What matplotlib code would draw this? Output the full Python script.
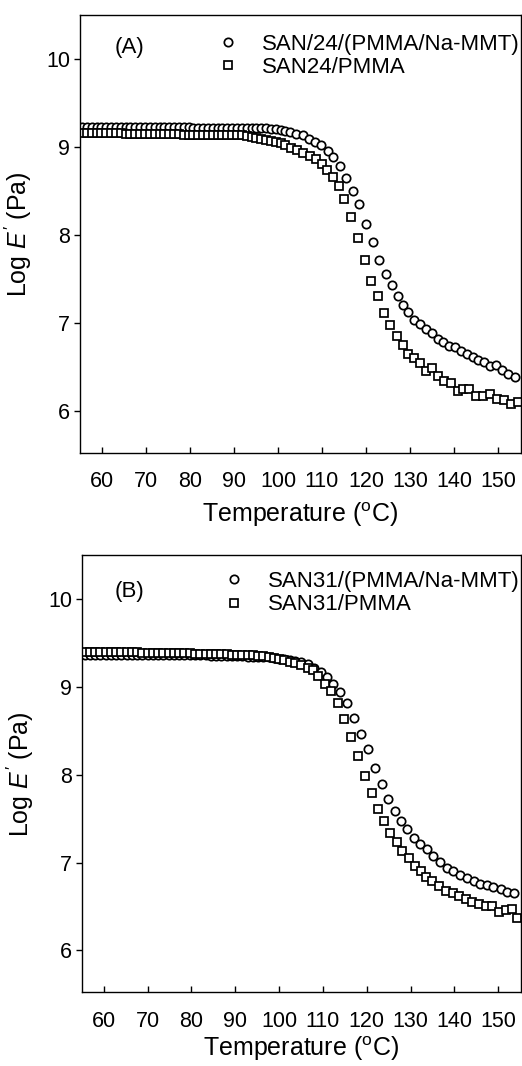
import matplotlib
matplotlib.use("Agg")
import matplotlib.pyplot as plt

plt.rcParams["font.family"] = ["Liberation Sans", "DejaVu Sans"]
plt.rcParams["mathtext.fontset"] = "custom"
plt.rcParams["mathtext.rm"] = "Liberation Sans"
plt.rcParams["mathtext.it"] = "Liberation Sans:italic"

# Panel A: SAN24 blends
ta_clay = [55.5, 56.6, 57.7, 58.8, 59.9, 61.0, 62.1, 63.2, 64.3, 65.4, 66.5, 67.6,
           68.7, 69.8, 70.9, 72.0, 73.1, 74.2, 75.3, 76.4, 77.5, 78.6, 79.7, 80.8,
           81.9, 83.0, 84.1, 85.2, 86.3, 87.4, 88.5, 89.6, 90.7, 91.8, 92.9, 94.0,
           95.1, 96.2, 97.3, 98.4, 99.5, 100.6, 101.7, 102.8, 104.0,
           105.6, 107.1, 108.4, 109.8, 111.3, 112.6, 114.1, 115.5, 117.0, 118.3,
           119.9, 121.5, 123.0, 124.5, 126.0, 127.2, 128.5, 129.6, 131.0, 132.3,
           133.6, 135.0, 136.3, 137.6, 138.9, 140.2, 141.6, 142.9, 144.2, 145.5,
           146.9, 148.2, 149.5, 150.8, 152.3, 153.9]
ea_clay = [9.23, 9.23, 9.23, 9.23, 9.23, 9.23, 9.23, 9.23, 9.23, 9.23, 9.23, 9.23,
           9.23, 9.23, 9.23, 9.23, 9.23, 9.23, 9.23, 9.23, 9.23, 9.23, 9.23, 9.22,
           9.22, 9.22, 9.22, 9.22, 9.22, 9.22, 9.22, 9.22, 9.22, 9.22, 9.22, 9.22,
           9.21, 9.21, 9.21, 9.20, 9.20, 9.19, 9.18, 9.17, 9.15,
           9.13, 9.09, 9.06, 9.02, 8.95, 8.88, 8.78, 8.65, 8.50, 8.35,
           8.12, 7.92, 7.72, 7.56, 7.43, 7.31, 7.20, 7.12, 7.03, 6.985,
           6.93, 6.88, 6.815, 6.78, 6.74, 6.72, 6.68, 6.645, 6.61, 6.575,
           6.55, 6.51, 6.52, 6.46, 6.42, 6.38]

ta_neat = [55.5, 56.6, 57.7, 58.8, 59.9, 61.0, 62.1, 63.2, 64.3, 65.4, 66.5, 67.6,
           68.7, 69.8, 70.9, 72.0, 73.1, 74.2, 75.3, 76.4, 77.5, 78.6, 79.7, 80.8,
           81.9, 83.0, 84.1, 85.2, 86.3, 87.4, 88.5, 89.6, 90.7, 91.8, 92.9, 94.0,
           95.1, 96.2, 97.3, 98.4, 99.5, 100.6, 101.7,
           103.0, 104.4, 105.8, 107.2, 108.6, 109.9, 111.2, 112.5, 113.8, 115.1,
           116.6, 118.2, 119.7, 121.2, 122.7, 124.2, 125.5, 127.0, 128.3, 129.6,
           131.0, 132.3, 133.6, 135.0, 136.3, 137.8, 139.3, 140.8, 142.1, 143.5,
           145.0, 146.5, 148.1, 149.7, 151.3, 153.0, 154.6]
ea_neat = [9.16, 9.16, 9.16, 9.16, 9.16, 9.16, 9.16, 9.16, 9.16, 9.15, 9.15, 9.15,
           9.15, 9.15, 9.15, 9.15, 9.15, 9.15, 9.15, 9.15, 9.15, 9.14, 9.14, 9.14,
           9.14, 9.14, 9.14, 9.14, 9.14, 9.14, 9.13, 9.13, 9.13, 9.13, 9.12, 9.11,
           9.10, 9.09, 9.08, 9.07, 9.05, 9.04, 9.02,
           8.99, 8.96, 8.93, 8.90, 8.86, 8.81, 8.74, 8.66, 8.55, 8.41,
           8.20, 7.97, 7.72, 7.48, 7.30, 7.11, 6.97, 6.85, 6.75, 6.65,
           6.60, 6.54, 6.45, 6.49, 6.40, 6.34, 6.32, 6.23, 6.25, 6.25,
           6.17, 6.17, 6.19, 6.13, 6.12, 6.08, 6.10]

# Panel B: SAN31 blends
tb_clay = [55.6, 56.8, 58.0, 59.2, 60.4, 61.6, 62.8, 64.0, 65.2, 66.4, 67.6, 68.8,
           70.0, 71.2, 72.4, 73.6, 74.8, 76.0, 77.2, 78.4, 79.6, 80.8, 82.0, 83.2,
           84.4, 85.6, 86.8, 88.0, 89.2, 90.4, 91.6, 92.8, 94.0, 95.2, 96.4, 97.6,
           98.8, 100.0, 101.2, 102.4, 103.6,
           104.9, 106.5, 108.0, 109.5, 111.0, 112.4, 113.9, 115.5, 117.1, 118.6,
           120.2, 121.9, 123.4, 124.9, 126.4, 127.9, 129.3, 130.8, 132.2, 133.7,
           135.2, 136.8, 138.3, 139.8, 141.3, 142.8, 144.4, 145.9, 147.4, 148.9,
           150.6, 152.1, 153.6]
eb_clay = [9.37, 9.37, 9.37, 9.37, 9.37, 9.37, 9.37, 9.37, 9.37, 9.37, 9.37, 9.37,
           9.37, 9.36, 9.36, 9.36, 9.36, 9.36, 9.36, 9.36, 9.36, 9.36, 9.36, 9.36,
           9.35, 9.35, 9.35, 9.35, 9.35, 9.35, 9.35, 9.34, 9.34, 9.34, 9.34, 9.34,
           9.33, 9.32, 9.32, 9.31, 9.30,
           9.28, 9.26, 9.22, 9.17, 9.11, 9.03, 8.94, 8.82, 8.65, 8.46,
           8.29, 8.08, 7.89, 7.72, 7.59, 7.47, 7.38, 7.28, 7.21, 7.15,
           7.07, 7.01, 6.94, 6.90, 6.86, 6.82, 6.79, 6.76, 6.74, 6.72,
           6.70, 6.67, 6.65]

tb_neat = [55.6, 56.8, 58.0, 59.2, 60.4, 61.6, 62.8, 64.0, 65.2, 66.4, 67.6, 68.8,
           70.0, 71.2, 72.4, 73.6, 74.8, 76.0, 77.2, 78.4, 79.6, 80.8, 82.0, 83.2,
           84.4, 85.6, 86.8, 88.0, 89.2, 90.4, 91.6, 92.8, 94.0, 95.2, 96.4, 97.6,
           98.8, 100.0, 101.2, 102.4,
           103.7, 105.1, 106.5, 107.7, 108.9, 110.4, 111.9, 113.4, 114.9, 116.5,
           118.0, 119.6, 121.1, 122.6, 123.9, 125.4, 126.9, 128.1, 129.6, 131.1,
           132.3, 133.5, 135.0, 136.5, 138.1, 139.6, 141.1, 142.6, 144.1, 145.6,
           147.2, 148.7, 150.2, 151.7, 153.2, 154.4]
eb_neat = [9.40, 9.40, 9.40, 9.40, 9.40, 9.40, 9.40, 9.40, 9.40, 9.40, 9.40, 9.39,
           9.39, 9.39, 9.39, 9.39, 9.39, 9.39, 9.39, 9.39, 9.39, 9.38, 9.38, 9.38,
           9.38, 9.38, 9.38, 9.38, 9.37, 9.37, 9.37, 9.36, 9.36, 9.35, 9.35, 9.34,
           9.33, 9.32, 9.31, 9.29,
           9.27, 9.25, 9.22, 9.19, 9.12, 9.04, 8.95, 8.82, 8.64, 8.43,
           8.21, 7.99, 7.79, 7.61, 7.47, 7.34, 7.23, 7.13, 7.05, 6.96,
           6.90, 6.83, 6.79, 6.73, 6.68, 6.65, 6.62, 6.58, 6.55, 6.53,
           6.51, 6.51, 6.44, 6.46, 6.47, 6.37]

labels_a = ["SAN/24/(PMMA/Na-MMT)", "SAN24/PMMA"]
labels_b = ["SAN31/(PMMA/Na-MMT)", "SAN31/PMMA"]
xticks = [60, 70, 80, 90, 100, 110, 120, 130, 140, 150]
yticks = [6, 7, 8, 9, 10]

fig = plt.figure(figsize=(5.22, 10.66), dpi=100)
ax1 = fig.add_axes([0.153, 0.575, 0.845, 0.411])
ax2 = fig.add_axes([0.157, 0.069, 0.841, 0.410])

panels = [
    (ax1, ta_clay, ea_clay, ta_neat, ea_neat, labels_a, "(A)", (0.310, 0.957), (0.079, 0.925), 6),
    (ax2, tb_clay, eb_clay, tb_neat, eb_neat, labels_b, "(B)", (0.320, 0.964), (0.075, 0.918), 2),
]

for ax, tc, ec, tn, en, labs, tag, leg_pos, tag_pos, xpad in panels:
    ax.plot(tc, ec, "o", ms=6.0, mfc="white", mec="black", mew=1.25, label=labs[0])
    ax.plot(tn, en, "s", ms=5.2, mfc="white", mec="black", mew=1.25, label=labs[1])
    ax.set_xlim(55, 155.2)
    ax.set_ylim(5.52, 10.5)
    ax.set_xticks(xticks)
    ax.set_yticks(yticks)
    ax.tick_params(axis="x", direction="in", length=4, width=1, pad=13, labelsize=15.5)
    ax.tick_params(axis="y", direction="out", length=4, width=1, pad=3, labelsize=15.5)
    for s in ax.spines.values():
        s.set_linewidth(1.0)
    ax.set_xlabel(r"Temperature ($^{\mathrm{o}}$C)", fontsize=18, labelpad=xpad)
    ax.set_ylabel(r"Log $E'$ (Pa)", fontsize=18, labelpad=9)
    ax.text(tag_pos[0], tag_pos[1], tag, transform=ax.transAxes, fontsize=16,
            va="center", ha="left")
    ax.legend(loc="upper left", bbox_to_anchor=leg_pos, frameon=False, fontsize=16,
              handlelength=1.0, handletextpad=1.05, labelspacing=0.1,
              borderpad=0, borderaxespad=0, markerscale=1.0)

fig.savefig("out.png", dpi=100)
